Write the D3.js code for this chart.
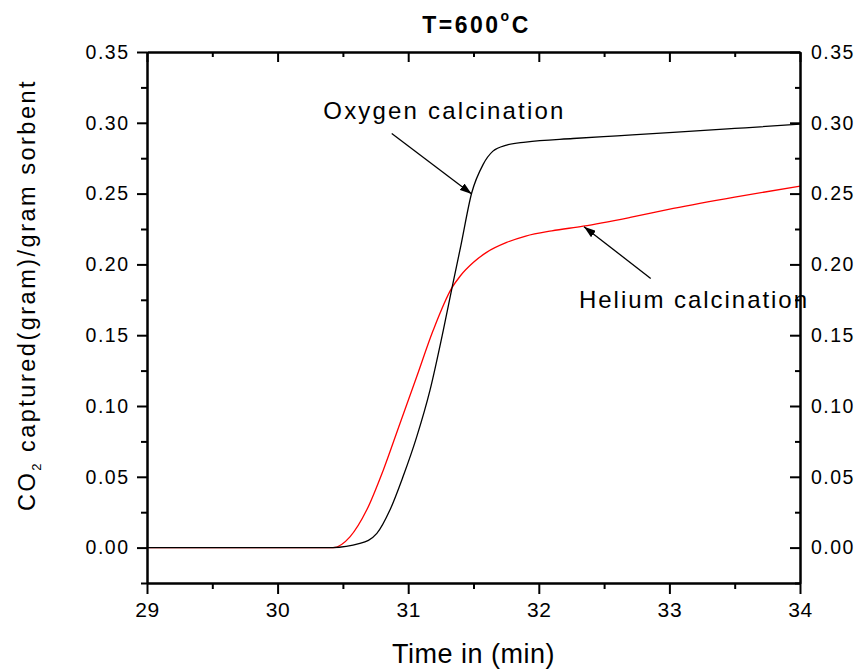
<!DOCTYPE html>
<html>
<head>
<meta charset="utf-8">
<script src="https://cdn.jsdelivr.net/npm/d3@7"></script>
<style>
  body { margin: 0; background: #fff; }
  svg { display: block; font-family: Arial, "Liberation Sans", sans-serif; }
</style>
</head>
<body>
<svg id="chart" width="861" height="670"></svg>
<script>
// CO2 uptake after oxygen calcination (black curve)
const oxygenTime = [29.0, 30.0, 30.42, 30.63, 30.76, 30.86, 30.96, 31.065, 31.167, 31.269, 31.335, 31.404, 31.486, 31.573, 31.649, 31.754, 31.9, 32.262, 32.6, 33.028, 33.5, 34.0];
const oxygenCO2  = [0.0,  0.0,  0.0,   0.0029, 0.0100, 0.0265, 0.0500, 0.0782, 0.1112, 0.1536, 0.1832, 0.2136, 0.2504, 0.2705, 0.2800, 0.2843, 0.2864, 0.2889, 0.2908, 0.2932, 0.2960, 0.2990];

// CO2 uptake after helium calcination (red curve)
const heliumTime = [29.0, 30.0, 30.427, 30.554, 30.682, 30.809, 30.937, 31.065, 31.192, 31.333, 31.40, 31.50, 31.60, 31.754, 31.90, 32.10, 32.34, 32.70, 33.03, 33.50, 34.0];
const heliumCO2  = [0.0,  0.0,  0.0,    0.0076, 0.0265, 0.0547, 0.0877, 0.1206, 0.1536, 0.1832, 0.1920, 0.2015, 0.2085, 0.2155, 0.2200, 0.2237, 0.2270, 0.2332, 0.2395, 0.2475, 0.2553];

// Axis ticks
const xMajor = [29, 30, 31, 32, 33, 34];
const xMinor = [29.5, 30.5, 31.5, 32.5, 33.5];
const yMajor = [0.00, 0.05, 0.10, 0.15, 0.20, 0.25, 0.30, 0.35];
const yMinor = [-0.025, 0.025, 0.075, 0.125, 0.175, 0.225, 0.275, 0.325];

// Annotation labels and arrows (data coordinates)
const labelText  = ["Oxygen calcination", "Helium calcination"];
const labelPos   = [[30.35, 0.3024], [32.308, 0.1689]];
const arrowFrom  = [[30.874, 0.2925], [32.857, 0.1901]];
const arrowTo    = [[31.486, 0.2497], [32.346, 0.2266]];

const svg = d3.select("#chart");
const x = d3.scaleLinear().domain([29, 34]).range([147, 800]);
const y = d3.scaleLinear().domain([-0.025, 0.35]).range([583, 52]);

// Arrowhead
svg.append("defs").append("marker")
  .attr("id", "head")
  .attr("viewBox", "0 0 12 8")
  .attr("refX", 12).attr("refY", 4)
  .attr("markerWidth", 12).attr("markerHeight", 8)
  .attr("markerUnits", "userSpaceOnUse")
  .attr("orient", "auto")
  .append("path").attr("d", "M0,0 L12,4 L0,8 Z").attr("fill", "#000");

// Curves
const line = d3.line().x(d => x(d[0])).y(d => y(d[1])).curve(d3.curveMonotoneX);
svg.append("path")
  .attr("d", line(heliumTime.map((t, i) => [t, heliumCO2[i]])))
  .attr("fill", "none").attr("stroke", "#ff0000").attr("stroke-width", 1.3);
svg.append("path")
  .attr("d", line(oxygenTime.map((t, i) => [t, oxygenCO2[i]])))
  .attr("fill", "none").attr("stroke", "#000").attr("stroke-width", 1.3);

// Axes
function styleAxis(g) {
  g.selectAll(".domain").attr("stroke", "#000").attr("stroke-width", 2);
  g.selectAll(".tick line").attr("stroke", "#000").attr("stroke-width", 2);
  g.selectAll(".tick text").attr("fill", "#000");
}

// bottom
svg.append("g").attr("transform", `translate(0,${y.range()[0]})`)
  .call(d3.axisBottom(x).tickValues(xMinor).tickSize(6).tickSizeOuter(0).tickFormat(""))
  .call(styleAxis);
svg.append("g").attr("transform", `translate(0,${y.range()[0]})`)
  .call(d3.axisBottom(x).tickValues(xMajor).tickSize(11).tickSizeOuter(0).tickPadding(8).tickFormat(d3.format("d")))
  .call(styleAxis)
  .call(g => g.selectAll(".tick text").attr("font-size", 21).style("letter-spacing", "0.6px"));

// top (inward ticks)
svg.append("g").attr("transform", `translate(0,${y.range()[1]})`)
  .call(d3.axisTop(x).tickValues(xMinor).tickSize(-5).tickSizeOuter(0).tickFormat(""))
  .call(styleAxis);
svg.append("g").attr("transform", `translate(0,${y.range()[1]})`)
  .call(d3.axisTop(x).tickValues(xMajor).tickSize(-10).tickSizeOuter(0).tickFormat(""))
  .call(styleAxis);

// left
svg.append("g").attr("transform", `translate(${x.range()[0]},0)`)
  .call(d3.axisLeft(y).tickValues(yMinor).tickSize(6).tickSizeOuter(0).tickFormat(""))
  .call(styleAxis);
svg.append("g").attr("transform", `translate(${x.range()[0]},0)`)
  .call(d3.axisLeft(y).tickValues(yMajor).tickSize(10).tickSizeOuter(0).tickPadding(7.5).tickFormat(d3.format(".2f")))
  .call(styleAxis)
  .call(g => g.selectAll(".tick text").attr("font-size", 19.5).style("letter-spacing", "1.5px"));

// right (inward ticks, labels outside)
svg.append("g").attr("transform", `translate(${x.range()[1]},0)`)
  .call(d3.axisRight(y).tickValues(yMinor).tickSize(-5).tickSizeOuter(0).tickFormat(""))
  .call(styleAxis);
svg.append("g").attr("transform", `translate(${x.range()[1]},0)`)
  .call(d3.axisRight(y).tickValues(yMajor).tickSize(-10).tickSizeOuter(0).tickPadding(11).tickFormat(d3.format(".2f")))
  .call(styleAxis)
  .call(g => g.selectAll(".tick text").attr("font-size", 19.5).style("letter-spacing", "1.5px"));

// Title
const title = svg.append("text")
  .attr("x", 476.5).attr("y", 33)
  .attr("text-anchor", "middle")
  .attr("font-size", 23).attr("font-weight", "bold")
  .style("letter-spacing", "2.5px");
title.append("tspan").text("T=600");
title.append("tspan").attr("font-size", 14).attr("dy", -12).text("o");
title.append("tspan").attr("dy", 12).text("C");

// Axis titles
svg.append("text")
  .attr("x", 473.5).attr("y", 663)
  .attr("text-anchor", "middle")
  .attr("font-size", 27)
  .style("letter-spacing", "0.5px")
  .text("Time in (min)");

const yTitle = svg.append("text")
  .attr("transform", "translate(35,295) rotate(-90)")
  .attr("text-anchor", "middle")
  .attr("font-size", 23.5)
  .style("letter-spacing", "2.5px");
yTitle.append("tspan").text("CO");
yTitle.append("tspan").attr("font-size", 13).attr("dy", 6).text("2");
yTitle.append("tspan").attr("dy", -6).text(" captured(gram)/gram sorbent");

// Annotations
labelText.forEach((t, i) => {
  svg.append("line")
    .attr("x1", x(arrowFrom[i][0])).attr("y1", y(arrowFrom[i][1]))
    .attr("x2", x(arrowTo[i][0])).attr("y2", y(arrowTo[i][1]))
    .attr("stroke", "#000").attr("stroke-width", 1.3)
    .attr("marker-end", "url(#head)");
  svg.append("text")
    .attr("x", x(labelPos[i][0])).attr("y", y(labelPos[i][1]))
    .attr("font-size", 24)
    .attr("textLength", i === 0 ? 240 : 228)
    .attr("lengthAdjust", "spacing")
    .text(t);
});
</script>
</body>
</html>
